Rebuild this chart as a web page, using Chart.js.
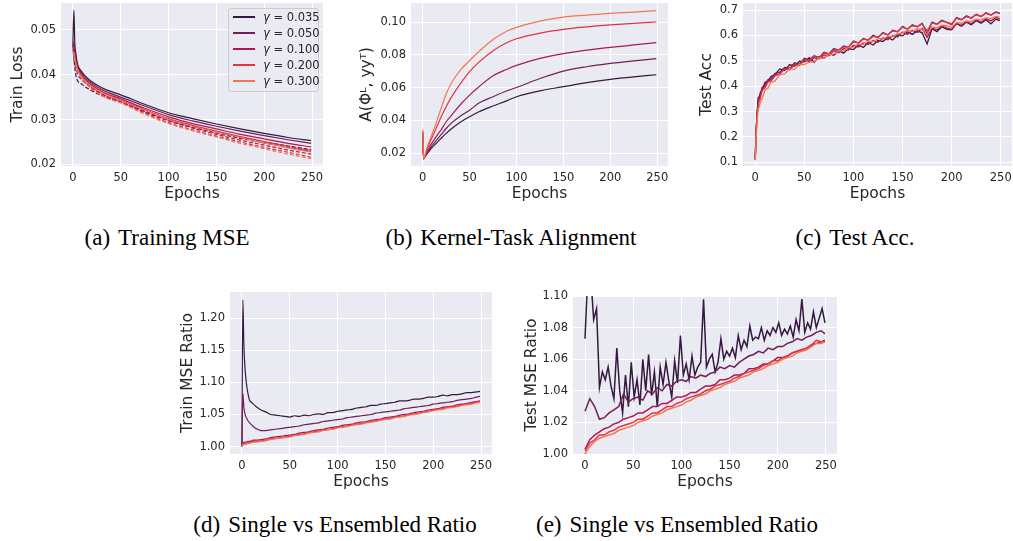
<!DOCTYPE html>
<html>
<head>
<meta charset="utf-8">
<script src="https://cdn.jsdelivr.net/npm/chart.js@4.4.1/dist/chart.umd.min.js"></script>
<style>
  html, body { margin: 0; padding: 0; background: #ffffff; overflow: hidden; }
  body { width: 1013px; height: 541px; position: relative; }
  .panel { position: absolute; }
  .caption {
    position: absolute; width: 400px; text-align: center; white-space: nowrap;
    font-family: 'Liberation Serif', 'Times New Roman', serif; font-size: 23px; line-height: 23px; color: #000;
  }
  .caption span { margin-left: 8px; }
  .legend {
    position: absolute; left: 228px; top: 8px; width: 89px; height: 82px;
    border: 1px solid #cccccc; border-radius: 3px; background: rgba(234, 234, 242, 0.8);
    font-family: 'DejaVu Sans', sans-serif; font-size: 11.5px; color: #262626;
  }
  .legend .row { position: absolute; left: 0; width: 89px; height: 16px; line-height: 16px; }
  .legend .swatch { position: absolute; left: 4px; top: 7px; width: 22px; height: 1.5px; }
  .legend .label { position: absolute; left: 34px; top: 0; white-space: nowrap; }
</style>
</head>
<body>
<script>
const GAMMAS = ['0.035', '0.050', '0.100', '0.200', '0.300'];
const COLORS = ['#35193e', '#701f57', '#ad1759', '#e13342', '#f37651'];
const X_TICKS = [0, 50, 100, 150, 200, 250];

// (a) train loss, single (solid) and ensembled (dashed)
const lossEpochs = [0, 1, 2, 3, 5, 8, 12, 18, 25, 35, 50, 75, 100, 125, 150, 175, 200, 225, 249];
const lossSingle035 = [0.0470, 0.0543, 0.0470, 0.0448, 0.0422, 0.0410, 0.0399, 0.0387, 0.0377, 0.0366, 0.0355, 0.0334, 0.0315, 0.0302, 0.0290, 0.0279, 0.0269, 0.0260, 0.0253];
const lossSingle050 = [0.0462, 0.0472, 0.0450, 0.0438, 0.0418, 0.0406, 0.0395, 0.0383, 0.0373, 0.0362, 0.0350, 0.0330, 0.0311, 0.0297, 0.0285, 0.0274, 0.0264, 0.0255, 0.0247];
const lossSingle100 = [0.0455, 0.0455, 0.0440, 0.0430, 0.0414, 0.0402, 0.0391, 0.0379, 0.0369, 0.0358, 0.0346, 0.0325, 0.0306, 0.0291, 0.0279, 0.0267, 0.0257, 0.0247, 0.0239];
const lossSingle200 = [0.0452, 0.0450, 0.0437, 0.0427, 0.0412, 0.0400, 0.0389, 0.0377, 0.0367, 0.0356, 0.0343, 0.0322, 0.0302, 0.0287, 0.0274, 0.0262, 0.0251, 0.0240, 0.0231];
const lossSingle300 = [0.0450, 0.0447, 0.0435, 0.0425, 0.0410, 0.0398, 0.0388, 0.0376, 0.0366, 0.0355, 0.0342, 0.0321, 0.0300, 0.0285, 0.0272, 0.0260, 0.0248, 0.0237, 0.0228];
const lossEns035 = [0.0470, 0.0442, 0.0415, 0.0400, 0.0386, 0.0381, 0.0374, 0.0366, 0.0358, 0.0349, 0.0339, 0.0319, 0.0299, 0.0285, 0.0272, 0.0260, 0.0250, 0.0241, 0.0233];
const lossEns050 = [0.0462, 0.0434, 0.0425, 0.0417, 0.0400, 0.0391, 0.0383, 0.0373, 0.0364, 0.0352, 0.0340, 0.0318, 0.0298, 0.0283, 0.0270, 0.0258, 0.0248, 0.0238, 0.0229];
const lossEns100 = [0.0453, 0.0452, 0.0437, 0.0427, 0.0411, 0.0398, 0.0387, 0.0374, 0.0363, 0.0351, 0.0340, 0.0316, 0.0297, 0.0281, 0.0267, 0.0254, 0.0243, 0.0232, 0.0223];
const lossEns200 = [0.0451, 0.0448, 0.0435, 0.0425, 0.0409, 0.0397, 0.0385, 0.0372, 0.0361, 0.0349, 0.0338, 0.0314, 0.0293, 0.0277, 0.0263, 0.0250, 0.0238, 0.0227, 0.0216];
const lossEns300 = [0.0449, 0.0446, 0.0433, 0.0423, 0.0407, 0.0395, 0.0384, 0.0371, 0.0360, 0.0348, 0.0337, 0.0312, 0.0291, 0.0275, 0.0261, 0.0247, 0.0235, 0.0223, 0.0213];

// (b) kernel-task alignment
const alignEpochs = [0, 1, 3, 5, 8, 10, 15, 20, 25, 30, 40, 50, 60, 75, 90, 100, 125, 150, 175, 200, 225, 249];
const align035 = [0.0320, 0.0165, 0.0182, 0.0198, 0.0220, 0.0233, 0.0262, 0.0292, 0.0320, 0.0345, 0.0388, 0.0422, 0.0452, 0.0487, 0.0520, 0.0544, 0.0580, 0.0605, 0.0630, 0.0650, 0.0665, 0.0678];
const align050 = [0.0325, 0.0165, 0.0185, 0.0205, 0.0230, 0.0245, 0.0280, 0.0315, 0.0350, 0.0380, 0.0425, 0.0462, 0.0505, 0.0544, 0.0580, 0.0600, 0.0655, 0.0700, 0.0727, 0.0747, 0.0763, 0.0776];
const align100 = [0.0330, 0.0165, 0.0190, 0.0215, 0.0245, 0.0262, 0.0305, 0.0345, 0.0391, 0.0425, 0.0495, 0.0554, 0.0605, 0.0672, 0.0712, 0.0735, 0.0778, 0.0807, 0.0828, 0.0845, 0.0860, 0.0874];
const align200 = [0.0335, 0.0165, 0.0195, 0.0230, 0.0270, 0.0295, 0.0360, 0.0425, 0.0483, 0.0535, 0.0622, 0.0697, 0.0755, 0.0825, 0.0875, 0.0898, 0.0932, 0.0955, 0.0970, 0.0982, 0.0992, 0.1000];
const align300 = [0.0340, 0.0165, 0.0200, 0.0240, 0.0285, 0.0315, 0.0395, 0.0480, 0.0560, 0.0622, 0.0705, 0.0765, 0.0820, 0.0893, 0.0945, 0.0967, 0.1005, 0.1030, 0.1042, 0.1053, 0.1060, 0.1069];

// (c) test accuracy
const accEpochs = [0, 1, 2, 3, 4, 5, 7, 10, 13, 16, 20, 25, 30, 35, 40, 45, 50, 55, 60, 65, 70, 75, 80, 85, 90, 95, 100, 105, 110, 115, 120, 125, 130, 135, 140, 145, 150, 155, 160, 165, 170, 175, 180, 185, 190, 195, 200, 205, 210, 215, 220, 225, 230, 235, 240, 245, 249];
const acc035 = [0.115, 0.235, 0.300, 0.352, 0.348, 0.372, 0.385, 0.415, 0.420, 0.438, 0.445, 0.468, 0.462, 0.485, 0.478, 0.498, 0.496, 0.512, 0.494, 0.516, 0.510, 0.528, 0.522, 0.540, 0.530, 0.548, 0.544, 0.562, 0.552, 0.572, 0.562, 0.580, 0.576, 0.592, 0.582, 0.602, 0.598, 0.614, 0.604, 0.618, 0.610, 0.566, 0.626, 0.615, 0.634, 0.624, 0.622, 0.646, 0.636, 0.652, 0.642, 0.658, 0.648, 0.662, 0.645, 0.664, 0.658];
const acc050 = [0.112, 0.230, 0.295, 0.340, 0.360, 0.362, 0.395, 0.405, 0.426, 0.428, 0.450, 0.455, 0.474, 0.470, 0.492, 0.486, 0.510, 0.504, 0.520, 0.512, 0.534, 0.527, 0.548, 0.541, 0.558, 0.553, 0.578, 0.570, 0.588, 0.581, 0.600, 0.592, 0.611, 0.602, 0.620, 0.614, 0.636, 0.624, 0.642, 0.634, 0.648, 0.605, 0.652, 0.644, 0.660, 0.651, 0.642, 0.670, 0.662, 0.677, 0.668, 0.683, 0.674, 0.689, 0.680, 0.692, 0.688];
const acc100 = [0.110, 0.225, 0.290, 0.326, 0.354, 0.356, 0.388, 0.400, 0.422, 0.421, 0.445, 0.448, 0.471, 0.465, 0.486, 0.482, 0.503, 0.496, 0.512, 0.508, 0.523, 0.520, 0.540, 0.532, 0.548, 0.542, 0.561, 0.554, 0.570, 0.564, 0.580, 0.573, 0.590, 0.583, 0.600, 0.594, 0.613, 0.604, 0.620, 0.611, 0.627, 0.592, 0.630, 0.622, 0.637, 0.630, 0.624, 0.648, 0.640, 0.654, 0.646, 0.661, 0.652, 0.666, 0.657, 0.671, 0.664];
const acc200 = [0.110, 0.220, 0.285, 0.318, 0.346, 0.348, 0.382, 0.394, 0.416, 0.420, 0.440, 0.448, 0.466, 0.468, 0.482, 0.486, 0.504, 0.502, 0.516, 0.511, 0.530, 0.528, 0.542, 0.542, 0.555, 0.554, 0.574, 0.570, 0.585, 0.582, 0.596, 0.592, 0.608, 0.602, 0.618, 0.615, 0.632, 0.625, 0.638, 0.634, 0.645, 0.618, 0.649, 0.644, 0.656, 0.651, 0.646, 0.667, 0.661, 0.674, 0.668, 0.681, 0.674, 0.687, 0.680, 0.691, 0.686];
const acc300 = [0.108, 0.205, 0.265, 0.310, 0.318, 0.334, 0.350, 0.385, 0.392, 0.416, 0.420, 0.445, 0.448, 0.468, 0.466, 0.486, 0.485, 0.495, 0.496, 0.512, 0.510, 0.526, 0.526, 0.540, 0.538, 0.552, 0.554, 0.566, 0.564, 0.578, 0.575, 0.588, 0.585, 0.597, 0.595, 0.608, 0.609, 0.620, 0.616, 0.626, 0.622, 0.605, 0.633, 0.630, 0.640, 0.638, 0.632, 0.651, 0.648, 0.657, 0.655, 0.664, 0.661, 0.670, 0.666, 0.675, 0.672];

// (d) train MSE ratio, single vs ensembled
const trainRatioEpochs = [0, 1, 2, 3, 4, 5, 6, 8, 10, 12, 15, 20, 25, 30, 35, 40, 45, 50, 55, 60, 65, 70, 75, 80, 85, 90, 95, 100, 105, 110, 115, 120, 125, 130, 135, 140, 145, 150, 155, 160, 165, 170, 175, 180, 185, 190, 195, 200, 205, 210, 215, 220, 225, 230, 235, 240, 245, 249];
const trainRatio035 = [1.000, 1.228, 1.160, 1.128, 1.108, 1.095, 1.085, 1.072, 1.069, 1.066, 1.062, 1.057, 1.054, 1.050, 1.049, 1.048, 1.047, 1.046, 1.048, 1.047, 1.049, 1.048, 1.050, 1.051, 1.050, 1.053, 1.053, 1.055, 1.056, 1.057, 1.058, 1.060, 1.061, 1.062, 1.064, 1.064, 1.066, 1.067, 1.068, 1.069, 1.071, 1.071, 1.072, 1.074, 1.074, 1.075, 1.077, 1.077, 1.078, 1.080, 1.079, 1.081, 1.081, 1.082, 1.084, 1.084, 1.085, 1.086];
const trainRatio050 = [1.000, 1.083, 1.062, 1.052, 1.047, 1.044, 1.041, 1.037, 1.034, 1.031, 1.028, 1.025, 1.025, 1.026, 1.027, 1.028, 1.029, 1.030, 1.031, 1.032, 1.034, 1.035, 1.036, 1.037, 1.039, 1.040, 1.041, 1.042, 1.043, 1.045, 1.046, 1.047, 1.048, 1.049, 1.050, 1.052, 1.053, 1.054, 1.055, 1.056, 1.057, 1.059, 1.060, 1.061, 1.062, 1.063, 1.064, 1.066, 1.067, 1.068, 1.069, 1.070, 1.072, 1.073, 1.074, 1.075, 1.077, 1.078];
const trainRatio100 = [1.005, 1.007, 1.006, 1.007, 1.007, 1.007, 1.008, 1.008, 1.009, 1.010, 1.010, 1.011, 1.012, 1.014, 1.015, 1.016, 1.017, 1.018, 1.019, 1.021, 1.022, 1.023, 1.025, 1.026, 1.027, 1.029, 1.030, 1.031, 1.033, 1.034, 1.035, 1.037, 1.038, 1.039, 1.041, 1.042, 1.043, 1.045, 1.046, 1.047, 1.049, 1.050, 1.051, 1.053, 1.054, 1.055, 1.057, 1.058, 1.059, 1.061, 1.062, 1.063, 1.065, 1.066, 1.067, 1.069, 1.070, 1.071];
const trainRatio200 = [1.002, 1.005, 1.004, 1.005, 1.005, 1.005, 1.006, 1.006, 1.007, 1.008, 1.008, 1.009, 1.010, 1.012, 1.013, 1.014, 1.015, 1.016, 1.018, 1.019, 1.020, 1.022, 1.023, 1.024, 1.026, 1.027, 1.028, 1.030, 1.031, 1.032, 1.034, 1.035, 1.036, 1.038, 1.039, 1.040, 1.042, 1.043, 1.044, 1.046, 1.047, 1.048, 1.050, 1.051, 1.052, 1.054, 1.055, 1.057, 1.058, 1.059, 1.061, 1.062, 1.063, 1.065, 1.066, 1.067, 1.069, 1.070];
const trainRatio300 = [1.001, 1.003, 1.003, 1.004, 1.004, 1.004, 1.005, 1.005, 1.006, 1.007, 1.007, 1.008, 1.009, 1.011, 1.012, 1.013, 1.014, 1.015, 1.017, 1.018, 1.019, 1.021, 1.022, 1.023, 1.025, 1.026, 1.027, 1.029, 1.030, 1.031, 1.033, 1.034, 1.035, 1.037, 1.038, 1.039, 1.041, 1.042, 1.043, 1.045, 1.046, 1.047, 1.049, 1.050, 1.051, 1.053, 1.054, 1.056, 1.057, 1.058, 1.060, 1.061, 1.062, 1.064, 1.065, 1.066, 1.068, 1.069];

// (e) test MSE ratio, the noisiest line is sampled more finely
const testRatioFineEpochs = [0, 3, 6, 9, 12, 15, 18, 21, 24, 27, 30, 33, 36, 39, 42, 45, 48, 51, 54, 57, 60, 63, 66, 69, 72, 75, 78, 81, 84, 87, 90, 93, 96, 99, 102, 105, 108, 111, 114, 117, 120, 123, 126, 129, 132, 135, 138, 141, 144, 147, 150, 153, 156, 159, 162, 165, 168, 171, 174, 177, 180, 183, 186, 189, 192, 195, 198, 201, 204, 207, 210, 213, 216, 219, 222, 225, 228, 231, 234, 237, 240, 243, 246, 249];
const testRatio035 = [1.073, 1.115, 1.112, 1.085, 1.092, 1.042, 1.052, 1.047, 1.055, 1.043, 1.035, 1.067, 1.040, 1.026, 1.050, 1.030, 1.058, 1.036, 1.047, 1.031, 1.060, 1.040, 1.063, 1.037, 1.052, 1.030, 1.055, 1.044, 1.058, 1.046, 1.036, 1.059, 1.045, 1.075, 1.050, 1.057, 1.047, 1.062, 1.050, 1.055, 1.058, 1.098, 1.055, 1.060, 1.063, 1.052, 1.058, 1.073, 1.060, 1.065, 1.062, 1.067, 1.061, 1.075, 1.066, 1.072, 1.068, 1.081, 1.072, 1.074, 1.073, 1.080, 1.072, 1.078, 1.075, 1.080, 1.077, 1.083, 1.075, 1.079, 1.076, 1.081, 1.074, 1.085, 1.078, 1.098, 1.077, 1.083, 1.079, 1.090, 1.080, 1.086, 1.092, 1.083];
const testRatioEpochs = [0, 5, 10, 15, 20, 25, 30, 35, 40, 45, 50, 55, 60, 65, 70, 75, 80, 85, 90, 95, 100, 105, 110, 115, 120, 125, 130, 135, 140, 145, 150, 155, 160, 165, 170, 175, 180, 185, 190, 195, 200, 205, 210, 215, 220, 225, 230, 235, 240, 245, 249];
const testRatio050 = [1.027, 1.035, 1.030, 1.022, 1.023, 1.026, 1.028, 1.030, 1.038, 1.033, 1.035, 1.036, 1.034, 1.040, 1.038, 1.042, 1.040, 1.044, 1.043, 1.046, 1.047, 1.046, 1.049, 1.048, 1.050, 1.049, 1.051, 1.052, 1.055, 1.054, 1.056, 1.055, 1.058, 1.060, 1.062, 1.063, 1.065, 1.064, 1.067, 1.066, 1.068, 1.068, 1.070, 1.071, 1.073, 1.072, 1.074, 1.075, 1.077, 1.078, 1.076];
const testRatio100 = [1.003, 1.009, 1.012, 1.014, 1.016, 1.017, 1.019, 1.020, 1.022, 1.023, 1.024, 1.026, 1.026, 1.028, 1.030, 1.030, 1.032, 1.032, 1.034, 1.036, 1.036, 1.037, 1.039, 1.039, 1.041, 1.043, 1.043, 1.044, 1.047, 1.047, 1.048, 1.050, 1.050, 1.051, 1.054, 1.054, 1.055, 1.057, 1.057, 1.059, 1.061, 1.061, 1.062, 1.064, 1.065, 1.066, 1.067, 1.069, 1.070, 1.071, 1.072];
const testRatio200 = [1.002, 1.007, 1.009, 1.012, 1.012, 1.014, 1.015, 1.017, 1.018, 1.019, 1.020, 1.022, 1.022, 1.024, 1.026, 1.026, 1.028, 1.030, 1.030, 1.032, 1.033, 1.035, 1.036, 1.037, 1.038, 1.040, 1.041, 1.043, 1.044, 1.045, 1.046, 1.048, 1.049, 1.051, 1.052, 1.053, 1.054, 1.056, 1.057, 1.059, 1.059, 1.061, 1.062, 1.064, 1.065, 1.066, 1.067, 1.069, 1.072, 1.071, 1.071];
const testRatio300 = [1.000, 1.005, 1.008, 1.010, 1.011, 1.012, 1.013, 1.015, 1.016, 1.017, 1.018, 1.020, 1.021, 1.022, 1.024, 1.025, 1.026, 1.028, 1.029, 1.030, 1.031, 1.033, 1.034, 1.036, 1.037, 1.038, 1.040, 1.041, 1.042, 1.044, 1.045, 1.046, 1.048, 1.049, 1.050, 1.052, 1.053, 1.054, 1.056, 1.057, 1.058, 1.060, 1.061, 1.062, 1.064, 1.065, 1.066, 1.068, 1.070, 1.070, 1.071];

const INK = '#262626';
const PAD_TOP = 16;
const PAD_RIGHT = 14;
const X_AXIS_H = 37;

Chart.defaults.font.family = "'DejaVu Sans', sans-serif";
Chart.defaults.animation = false;

// seaborn darkgrid face
const facePlugin = {
  id: 'face',
  beforeDraw(chart) {
    const { ctx, chartArea: a } = chart;
    ctx.save();
    ctx.fillStyle = '#eaeaf2';
    ctx.fillRect(a.left, a.top, a.right - a.left, a.bottom - a.top);
    ctx.restore();
  }
};

function line(xs, ys, gi, extra) {
  return Object.assign({
    data: xs.map((x, i) => ({ x: x, y: ys[i] })),
    borderColor: COLORS[gi],
    borderWidth: 1.2,
    pointRadius: 0,
    fill: false,
    order: COLORS.length - gi
  }, extra || {});
}

function buildScales(p) {
  return {
    x: {
      type: 'linear',
      min: -12.45,
      max: 261.45,
      afterBuildTicks: (s) => { s.ticks = X_TICKS.map(v => ({ value: v })); },
      afterFit: (s) => { s.height = X_AXIS_H; },
      grid: { color: '#ffffff', lineWidth: 1, drawTicks: false },
      border: { display: false },
      ticks: { color: INK, font: { size: 11.5 }, padding: 5, maxRotation: 0, autoSkip: false, callback: v => String(v) },
      title: { display: true, text: 'Epochs', color: INK, font: { size: 15.5 }, padding: 0 }
    },
    y: {
      type: 'linear',
      min: p.yMin,
      max: p.yMax,
      afterBuildTicks: (s) => { s.ticks = p.yTicks.map(v => ({ value: v })); },
      afterFit: (s) => { s.width = p.yWidth; },
      grid: { color: '#ffffff', lineWidth: 1, drawTicks: false },
      border: { display: false },
      ticks: { color: INK, font: { size: 11.5 }, padding: 5, autoSkip: false, callback: v => v.toFixed(p.digits) },
      title: { display: true, text: p.yLabel, color: INK, font: { size: 15.5 }, padding: { top: p.titlePad, bottom: 0 } }
    }
  };
}

function addPanel(p) {
  const left = p.plot.l - p.yWidth;
  const top = p.plot.t - PAD_TOP;
  const div = document.createElement('div');
  div.className = 'panel';
  div.style.left = left + 'px';
  div.style.top = top + 'px';
  div.style.width = (p.plot.r - left + PAD_RIGHT) + 'px';
  div.style.height = (p.plot.b - top + X_AXIS_H) + 'px';
  const canvas = document.createElement('canvas');
  div.appendChild(canvas);
  document.body.appendChild(div);

  return new Chart(canvas, {
    type: 'line',
    data: { datasets: p.datasets },
    options: {
      responsive: true,
      maintainAspectRatio: false,
      layout: { padding: { top: PAD_TOP, right: PAD_RIGHT, left: 0, bottom: 0 } },
      plugins: { legend: { display: false }, tooltip: { enabled: false } },
      scales: buildScales(p)
    },
    plugins: [facePlugin]
  });
}

function addCaption(letter, text, cx, top) {
  const div = document.createElement('div');
  div.className = 'caption';
  div.style.left = (cx - 200) + 'px';
  div.style.top = top + 'px';
  div.innerHTML = '(' + letter + ')<span>' + text + '</span>';
  document.body.appendChild(div);
}

const lossSingle = [lossSingle035, lossSingle050, lossSingle100, lossSingle200, lossSingle300];
const lossEns = [lossEns035, lossEns050, lossEns100, lossEns200, lossEns300];
const smooth = { cubicInterpolationMode: 'monotone' };

addPanel({
  plot: { l: 61, t: 3, r: 323, b: 166 }, yWidth: 61, titlePad: 8.7,
  yMin: 0.01965, yMax: 0.05595, yTicks: [0.02, 0.03, 0.04, 0.05], digits: 2, yLabel: 'Train Loss',
  datasets: [].concat(
    lossSingle.map((ys, gi) => line(lossEpochs, ys, gi, smooth)),
    lossEns.map((ys, gi) => line(lossEpochs, ys, gi, { cubicInterpolationMode: 'monotone', borderDash: [4, 2] }))
  )
});

addPanel({
  plot: { l: 411, t: 3, r: 668, b: 166 }, yWidth: 60, titlePad: 6.7,
  yMin: 0.0121, yMax: 0.1116, yTicks: [0.02, 0.04, 0.06, 0.08, 0.10], digits: 2, yLabel: 'A(Φᴸ, yyᵀ)',
  datasets: [align035, align050, align100, align200, align300].map((ys, gi) => line(alignEpochs, ys, gi, smooth))
});

addPanel({
  plot: { l: 743, t: 3, r: 1012, b: 166 }, yWidth: 60, titlePad: 14.7,
  yMin: 0.0854, yMax: 0.7276, yTicks: [0.1, 0.2, 0.3, 0.4, 0.5, 0.6, 0.7], digits: 1, yLabel: 'Test Acc',
  datasets: [acc035, acc050, acc100, acc200, acc300].map((ys, gi) => line(accEpochs, ys, gi, { borderWidth: 1.3 }))
});

addPanel({
  plot: { l: 230, t: 292, r: 492, b: 454 }, yWidth: 60, titlePad: 8.7,
  yMin: 0.9885, yMax: 1.2405, yTicks: [1.00, 1.05, 1.10, 1.15, 1.20], digits: 2, yLabel: 'Train MSE Ratio',
  datasets: [trainRatio035, trainRatio050, trainRatio100, trainRatio200, trainRatio300].map((ys, gi) => line(trainRatioEpochs, ys, gi, smooth))
});

addPanel({
  plot: { l: 573, t: 296, r: 837, b: 454 }, yWidth: 60, titlePad: 9.7,
  yMin: 1.0, yMax: 1.1, yTicks: [1.00, 1.02, 1.04, 1.06, 1.08, 1.10], digits: 2, yLabel: 'Test MSE Ratio',
  datasets: [line(testRatioFineEpochs, testRatio035, 0, { borderWidth: 1.5 })].concat(
    [testRatio050, testRatio100, testRatio200, testRatio300].map((ys, k) => line(testRatioEpochs, ys, k + 1, { borderWidth: 1.5 }))
  )
});

// legend of panel (a)
const legend = document.createElement('div');
legend.className = 'legend';
GAMMAS.forEach((g, gi) => {
  const row = document.createElement('div');
  row.className = 'row';
  row.style.top = (16 * gi) + 'px';
  row.innerHTML = '<div class="swatch" style="background:' + COLORS[gi] + '"></div>' +
    '<div class="label"><i>γ</i> = ' + g + '</div>';
  legend.appendChild(row);
});
document.body.appendChild(legend);

addCaption('a', 'Training MSE', 167, 225.7);
addCaption('b', 'Kernel-Task Alignment', 511, 225.7);
addCaption('c', 'Test Acc.', 855, 225.7);
addCaption('d', 'Single vs Ensembled Ratio', 335, 512.7);
addCaption('e', 'Single vs Ensembled Ratio', 677, 512.7);
</script>
</body>
</html>
